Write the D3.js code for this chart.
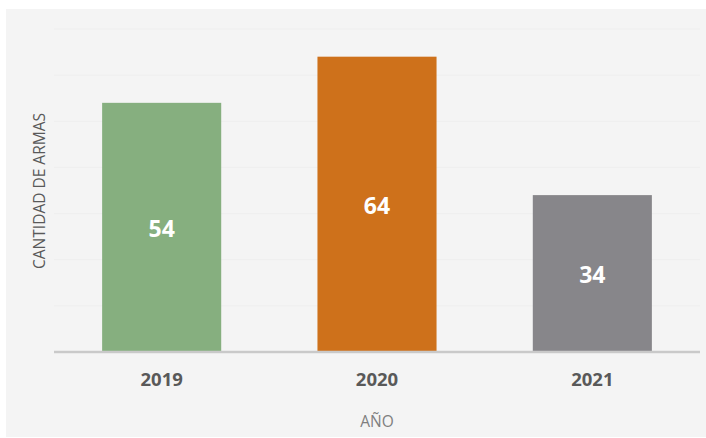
<!DOCTYPE html>
<html>
<head>
<meta charset="utf-8">
<script src="https://cdn.jsdelivr.net/npm/d3@7"></script>
<style>
  body { margin: 0; background: #ffffff; }
  svg { display: block; font-family: "Open Sans", sans-serif; }
</style>
</head>
<body>
<div id="chart"></div>
<script>
// data
var years = ["2019", "2020", "2021"];
var armas = [54, 64, 34];
var barColors = ["#86af7f", "#ce711b", "#87868a"];
var gridTicks = [10, 20, 30, 40, 50, 60, 70];

var width = 706, height = 438;
var margin = { top: 29, right: 6, bottom: 86, left: 54 };

var svg = d3.select("#chart").append("svg")
    .attr("width", width)
    .attr("height", height);

// gray panel behind the chart
svg.append("rect")
    .attr("x", 6).attr("y", 9)
    .attr("width", width - 6).attr("height", 428)
    .attr("fill", "#f4f4f4");

var x = d3.scaleBand()
    .domain(years)
    .range([margin.left, width - margin.right])
    .paddingInner(0.447)
    .paddingOuter(0.2235);

var y = d3.scaleLinear()
    .domain([0, 70])
    .range([height - margin.bottom, margin.top]);

// faint gridlines
svg.append("g")
    .selectAll("line")
    .data(gridTicks)
    .join("line")
    .attr("x1", margin.left)
    .attr("x2", width - margin.right)
    .attr("y1", d => y(d))
    .attr("y2", d => y(d))
    .attr("stroke", "#eeeeee")
    .attr("stroke-width", 1);

var data = years.map((yr, i) => ({ year: yr, value: armas[i], color: barColors[i] }));

svg.append("g")
    .selectAll("rect")
    .data(data)
    .join("rect")
    .attr("x", d => x(d.year))
    .attr("y", d => y(d.value))
    .attr("width", x.bandwidth())
    .attr("height", d => y(0) - y(d.value))
    .attr("fill", d => d.color);

// value labels inside bars
svg.append("g")
    .selectAll("text")
    .data(data)
    .join("text")
    .attr("x", d => x(d.year) + x.bandwidth() / 2)
    .attr("y", d => (y(d.value) + y(0)) / 2 + 1.5)
    .attr("dy", "0.35em")
    .attr("text-anchor", "middle")
    .attr("fill", "#ffffff")
    .attr("font-weight", "bold")
    .attr("font-size", "23px")
    .text(d => d.value);

// x axis
var xAxis = svg.append("g")
    .attr("transform", "translate(0," + y(0) + ")")
    .call(d3.axisBottom(x).tickSize(0).tickPadding(21));

xAxis.select(".domain")
    .attr("d", "M" + margin.left + ",0H" + (width - margin.right))
    .attr("stroke", "#c9c9c9")
    .attr("stroke-width", 2.5);

xAxis.selectAll("text")
    .attr("font-family", "Open Sans, sans-serif")
    .attr("font-size", "18.5px")
    .attr("font-weight", "bold")
    .attr("fill", "#595959");

// axis titles
svg.append("text")
    .attr("x", x.range()[0] + (x.range()[1] - x.range()[0]) / 2)
    .attr("y", 422)
    .attr("dy", "0.35em")
    .attr("text-anchor", "middle")
    .attr("font-size", "15.5px")
    .attr("fill", "#7f7f7f")
    .text("AÑO");

svg.append("text")
    .attr("transform", "translate(40,191) rotate(-90)")
    .attr("dy", "0.35em")
    .attr("text-anchor", "middle")
    .attr("font-size", "15.5px")
    .attr("fill", "#595959")
    .text("CANTIDAD DE ARMAS");
</script>
</body>
</html>
